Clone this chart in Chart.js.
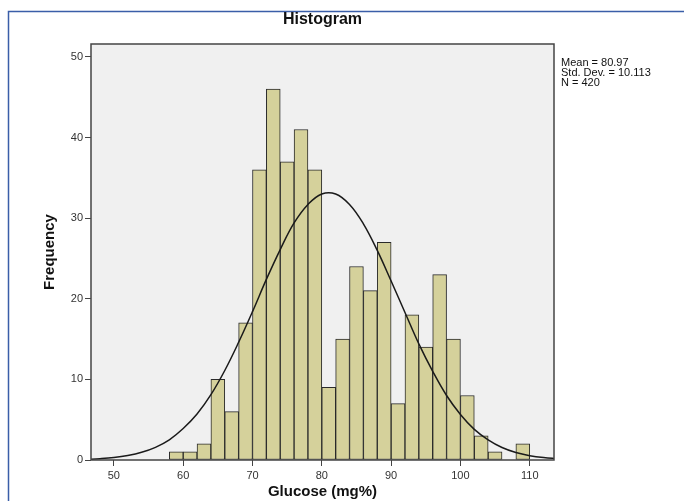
<!DOCTYPE html>
<html>
<head>
<meta charset="utf-8">
<script src="https://cdn.jsdelivr.net/npm/chart.js@4/dist/chart.umd.min.js"></script>
<style>
  html, body { margin: 0; padding: 0; background: #ffffff; }
  #wrap { width: 684px; height: 501px; position: relative; }
</style>
</head>
<body>
<div id="wrap"><canvas id="grafico"></canvas></div>
<script>
// bins (lower edge, width 2) and frequencies
const binInicio = [58, 60, 62, 64, 66, 68, 70, 72, 74, 76, 78, 80, 82, 84, 86, 88, 90, 92, 94, 96, 98, 100, 102, 104, 106, 108]
const frecuencias = [1, 1, 2, 10, 6, 17, 36, 46, 37, 41, 36, 9, 15, 24, 21, 27, 7, 18, 14, 23, 15, 8, 3, 1, 0, 2]
const anchoBin = 2

// normal curve
const curvaX = [46, 48, 50, 52, 54, 56, 58, 60, 62, 64, 66, 68, 70, 72, 74, 76, 78, 80, 82, 84, 86, 88, 90, 92, 94, 96, 98, 100, 102, 104, 106, 108, 110, 112, 114]
const curvaY = [0.08, 0.16, 0.3, 0.55, 0.95, 1.57, 2.5, 3.9, 5.7, 8.1, 11.1, 14.6, 18.4, 22.4, 26.1, 29.4, 31.7, 33.0, 33.0, 31.7, 29.3, 26.0, 22.2, 18.3, 14.4, 11.0, 8.0, 5.65, 3.8, 2.5, 1.55, 0.93, 0.54, 0.3, 0.16]

const ticksX = [50, 60, 70, 80, 90, 100, 110]
const ticksY = [0, 10, 20, 30, 40, 50]

const titulo = "Histogram"
const tituloX = "Glucose (mg%)"
const tituloY = "Frequency"
const estadisticas = ["Mean = 80.97", "Std. Dev. = 10.113", "N = 420"]

const barras = binInicio.map((b, i) => ({ x: b + anchoBin / 2, y: frecuencias[i] }))
const curva = curvaX.map((x, i) => ({ x: x, y: curvaY[i] }))

const decoracion = {
    id: "decoracion",
    beforeDraw(chart) {
        const ctx = chart.ctx
        const a = chart.chartArea
        ctx.save()
        ctx.fillStyle = "#f0f0f0"
        ctx.fillRect(a.left, a.top, a.right - a.left, a.bottom - a.top)
        // blue frame
        ctx.strokeStyle = "#3a5ea8"
        ctx.lineWidth = 1.5
        ctx.beginPath()
        ctx.moveTo(8.5, 501)
        ctx.lineTo(8.5, 11.5)
        ctx.lineTo(684, 11.5)
        ctx.stroke()
        ctx.restore()
    },
    afterDraw(chart) {
        const ctx = chart.ctx
        const a = chart.chartArea
        ctx.save()
        ctx.strokeStyle = "#444444"
        ctx.lineWidth = 1.5
        ctx.strokeRect(a.left, a.top, a.right - a.left, a.bottom - a.top)
        ctx.fillStyle = "#111111"
        ctx.textAlign = "center"
        ctx.textBaseline = "middle"
        ctx.font = "bold 16px Arial, 'Liberation Sans', sans-serif"
        ctx.fillText(titulo, (a.left + a.right) / 2, 20)
        ctx.font = "bold 15px Arial, 'Liberation Sans', sans-serif"
        ctx.fillText(tituloX, (a.left + a.right) / 2, 492)
        ctx.save()
        ctx.translate(50, (a.top + a.bottom) / 2)
        ctx.rotate(-Math.PI / 2)
        ctx.fillText(tituloY, 0, 0)
        ctx.restore()
        ctx.textAlign = "left"
        ctx.font = "11px Arial, 'Liberation Sans', sans-serif"
        estadisticas.forEach((t, i) => {
            ctx.fillText(t, 561, 63 + i * 10)
        })
        ctx.restore()
    }
}

const grafico = document.getElementById("grafico").getContext("2d")
const myChart = new Chart(grafico, {
    data: {
        datasets: [
            {
                type: "line",
                data: curva,
                borderColor: "#1a1a1a",
                borderWidth: 1.5,
                pointRadius: 0,
                tension: 0.4,
                fill: false,
                order: 0
            },
            {
                type: "bar",
                data: barras,
                backgroundColor: "#d5d19b",
                borderColor: "#2a2a2a",
                borderWidth: 1,
                borderSkipped: false,
                barPercentage: 1,
                categoryPercentage: 1,
                order: 1
            }
        ]
    },
    options: {
        responsive: true,
        maintainAspectRatio: false,
        animation: false,
        layout: { padding: { left: 0, top: 44, right: 130, bottom: 0 } },
        plugins: {
            legend: { display: false },
            title: { display: false },
            tooltip: { enabled: false }
        },
        scales: {
            x: {
                type: "linear",
                offset: false,
                min: 46.7,
                max: 113.5,
                afterFit: s => { s.height = 41 },
                afterBuildTicks: s => { s.ticks = ticksX.map(v => ({ value: v })) },
                grid: { display: true, offset: false, drawOnChartArea: false, drawTicks: true, tickLength: 6, color: "#444444", lineWidth: 1 },
                border: { display: false },
                ticks: { color: "#333333", font: { size: 11, family: "Arial, 'Liberation Sans', sans-serif" }, padding: 3 }
            },
            y: {
                type: "linear",
                min: 0,
                max: 51.6,
                afterFit: s => { s.width = 91 },
                afterBuildTicks: s => { s.ticks = ticksY.map(v => ({ value: v })) },
                grid: { display: true, drawOnChartArea: false, drawTicks: true, tickLength: 6, color: "#444444", lineWidth: 1 },
                border: { display: false },
                ticks: { color: "#333333", font: { size: 11, family: "Arial, 'Liberation Sans', sans-serif" }, padding: 2 }
            }
        }
    },
    plugins: [decoracion]
})
</script>
</body>
</html>
